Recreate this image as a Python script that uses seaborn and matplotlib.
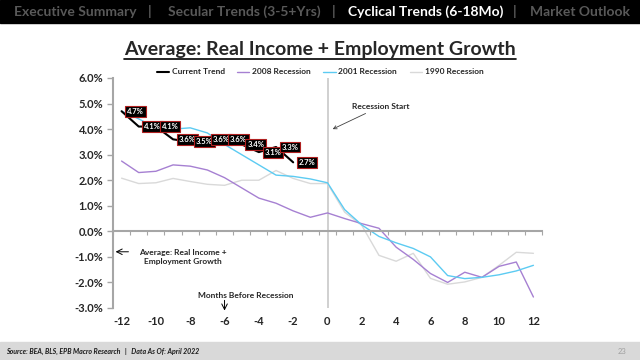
import pandas as pd
import seaborn as sns
import matplotlib.pyplot as plt
from matplotlib.lines import Line2D
from matplotlib.patches import Rectangle


months = list(range(-12, 13))
current_months = list(range(-12, -1))
current = [4.7, 4.1, 4.1, 3.6, 3.5, 3.6, 3.6, 3.4, 3.1, 3.3, 2.7]
rec_2008 = [2.75, 2.3, 2.35, 2.6, 2.55, 2.4, 2.1, 1.7, 1.3, 1.1, 0.8, 0.55, 0.72,
            0.5, 0.3, 0.12, -0.62, -1.1, -1.65, -2.0, -1.6, -1.8, -1.37, -1.2, -2.57]
rec_2001 = [4.7, 4.4, 4.05, 4.0, 4.05, 3.85, 3.4, 3.0, 2.6, 2.2, 2.15, 2.05, 1.9,
            0.85, 0.25, -0.2, -0.45, -0.67, -1.0, -1.73, -1.85, -1.8, -1.7, -1.55, -1.33]
rec_1990 = [2.08, 1.87, 1.9, 2.07, 1.95, 1.84, 1.8, 2.0, 2.0, 2.38, 2.07, 1.87, 1.87,
            0.75, 0.23, -0.94, -1.17, -0.86, -1.84, -2.07, -1.98, -1.8, -1.33, -0.82, -0.86]
x_ticks = list(range(-12, 13, 2))
y_ticks = list(range(-3, 7))

sns.set_style('white')
plt.rcParams['font.family'] = ['Lato', 'DejaVu Sans']

hist = pd.DataFrame({
    'month': months * 3,
    'value': rec_1990 + rec_2008 + rec_2001,
    'series': ['1990 Recession'] * 25 + ['2008 Recession'] * 25 + ['2001 Recession'] * 25,
})
cur = pd.DataFrame({'month': current_months, 'value': current})

colors = {'Current Trend': 'black', '2008 Recession': '#A680D2',
          '2001 Recession': '#5CCBF2', '1990 Recession': '#D9D9D9'}
axis_grey = '#A6A6A6'

fig = plt.figure(figsize=(6.4, 3.6), dpi=100)
ax = fig.add_axes([113 / 640, 1 - 308 / 360, 429 / 640, 230 / 360])

sns.lineplot(data=hist, x='month', y='value', hue='series', palette=colors,
             linewidth=1.0, ax=ax, legend=False)
sns.lineplot(data=cur, x='month', y='value', color='black', linewidth=1.5, ax=ax)

for m, v in zip(current_months, current):
    ax.annotate(f'{v:.1f}%', xy=(m, v), xytext=(4, 0), textcoords='offset points',
                ha='left', va='center', color='white', fontsize=5.5, fontweight='bold',
                bbox=dict(boxstyle='square,pad=0.25', fc='black', ec='#B02020', lw=0.8),
                zorder=5)

ax.axvline(0, color='#C8C8C8', lw=1.2, zorder=0)

ax.set_xlim(-12.5, 12.5)
ax.set_ylim(-3, 6)
ax.set_xlabel('')
ax.set_ylabel('')
ax.set_yticks(y_ticks)
ax.set_yticklabels([f'{t:.1f}%' for t in y_ticks], fontsize=8, fontweight='bold')
ax.tick_params(axis='y', left=True, length=4, width=1, color=axis_grey, pad=3)

for s in ['top', 'right']:
    ax.spines[s].set_visible(False)
ax.spines['left'].set_color(axis_grey)
ax.spines['left'].set_linewidth(1.5)
ax.spines['bottom'].set_position(('data', 0))
ax.spines['bottom'].set_color(axis_grey)
ax.spines['bottom'].set_linewidth(1.5)
ax.set_xticks([m - 0.5 for m in months] + [12.5])
ax.set_xticklabels([])
ax.tick_params(axis='x', bottom=True, length=3, width=0.8, color=axis_grey, direction='out')

sec = ax.secondary_xaxis('bottom')
sec.set_xticks(x_ticks)
sec.set_xticklabels([str(t) for t in x_ticks], fontsize=8, fontweight='bold')
sec.spines['bottom'].set_visible(False)
sec.tick_params(length=0, pad=6)

# annotations
ax.annotate('Recession Start', xy=(0.3, 4.0), xytext=(1.45, 4.9),
            ha='left', va='center', fontsize=6, fontweight='bold',
            arrowprops=dict(arrowstyle='->', color='#404040', lw=0.6,
                            shrinkA=1, shrinkB=0))
ax.annotate('', xy=(-12.35, -0.8), xytext=(-11.6, -0.8),
            arrowprops=dict(arrowstyle='->', color='black', lw=0.7, shrinkA=0, shrinkB=0))
ax.text(-8.4, -1.0, 'Average: Real Income +\nEmployment Growth', ha='center', va='center',
        fontsize=6, fontweight='bold', linespacing=1.3)
ax.annotate('', xy=(-6, -3.1), xytext=(-6, -2.7), annotation_clip=False,
            arrowprops=dict(arrowstyle='->', color='black', lw=0.7, shrinkA=0, shrinkB=0))
ax.text(-4.75, -2.5, 'Months Before Recession', ha='center', va='center',
        fontsize=6, fontweight='bold')

# legend
handles = [Line2D([], [], color=colors[k], lw=1.5 if k == 'Current Trend' else 1.0)
           for k in colors]
ax.legend(handles, list(colors), loc='center', bbox_to_anchor=(0.5, 1 - 72 / 360),
          bbox_transform=fig.transFigure, ncol=4, frameon=False,
          prop=dict(weight='bold', size=6), handlelength=1.45, handletextpad=0.35,
          columnspacing=1.5)

# header bar
fig.add_artist(Rectangle((0, 1 - 23 / 360), 1, 23 / 360, transform=fig.transFigure,
                         color='black', zorder=0))
tabs = [('Executive Summary', 14, '#595959'), ('|', 148, '#595959'),
        ('Secular Trends (3-5+Yrs)', 168, '#595959'), ('|', 332, '#595959'),
        ('Cyclical Trends (6-18Mo)', 348, 'white'), ('|', 513, '#595959'),
        ('Market Outlook', 530, '#595959')]
for txt, px, c in tabs:
    fig.text(px / 640, 1 - 11.5 / 360, txt, ha='left', va='center', color=c,
             fontsize=10, fontweight='bold')

# title with underline
title = fig.text(0.5, 1 - 49 / 360, 'Average: Real Income + Employment Growth',
                 ha='center', va='center', fontsize=14, fontweight='bold')
fig.canvas.draw()
bb = title.get_window_extent(fig.canvas.get_renderer())
uy = (bb.y0 - 1) / 360
fig.add_artist(Line2D([bb.x0 / 640, bb.x1 / 640], [uy, uy], transform=fig.transFigure,
                      color='black', lw=1.2))

# footer
fig.add_artist(Rectangle((0, 0), 1, 18 / 360, transform=fig.transFigure,
                         color='#D9D9D9', zorder=0))
fig.text(6 / 640, 9 / 360, 'Source: BEA, BLS, EPB Macro Research   |   Data As Of: April 2022',
         ha='left', va='center', fontsize=5, fontweight='bold', fontstyle='italic',
         color='#1a1a1a')
fig.text(622 / 640, 9 / 360, '23', ha='center', va='center', fontsize=5.5, color='#A0A0A0')

fig.savefig('out.png', dpi=100)
